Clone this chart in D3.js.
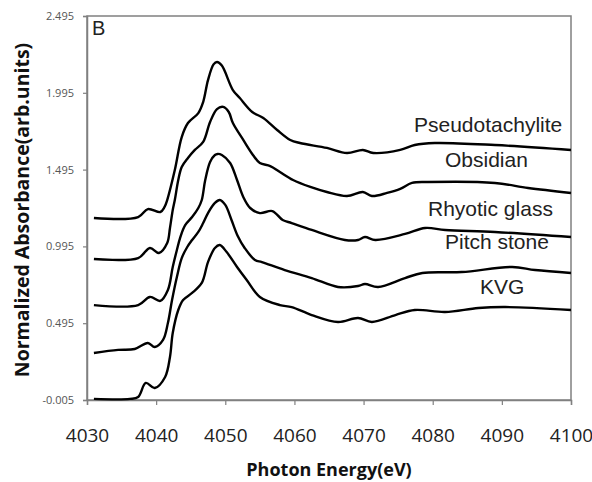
<!DOCTYPE html>
<html>
<head>
<meta charset="utf-8">
<script src="https://cdn.jsdelivr.net/npm/d3@7"></script>
<style>
  body { margin: 0; background: #fff; }
  svg { display: block; }
</style>
</head>
<body>
<div id="chart"></div>
<script>
// tick values
const xTicks = [4030, 4040, 4050, 4060, 4070, 4080, 4090, 4100];
const yTicks = [-0.005, 0.495, 0.995, 1.495, 1.995, 2.495];

// series (energy in eV, normalized absorbance)
const pseudoE = [4031.0, 4037.4, 4038.8, 4040.6, 4041.2, 4041.6, 4042.7, 4043.7, 4044.6, 4046.1, 4046.8, 4047.5, 4048.3, 4048.8, 4049.5, 4051.1, 4052.1, 4053.9, 4055.5, 4057.5, 4059.4, 4060.8, 4064.7, 4067.6, 4069.9, 4071.4, 4075.3, 4077.4, 4080.3, 4089.0, 4100.0];
const pseudoA = [1.180, 1.186, 1.238, 1.219, 1.250, 1.297, 1.492, 1.707, 1.798, 1.863, 1.935, 2.078, 2.180, 2.196, 2.172, 2.013, 1.961, 1.870, 1.831, 1.753, 1.688, 1.668, 1.636, 1.603, 1.623, 1.603, 1.623, 1.655, 1.668, 1.655, 1.623];

const obsE = [4031.0, 4037.4, 4039.1, 4040.4, 4041.6, 4042.0, 4042.4, 4042.7, 4043.2, 4043.7, 4044.6, 4045.6, 4046.8, 4047.8, 4048.8, 4049.7, 4050.5, 4051.1, 4052.6, 4054.0, 4055.0, 4056.5, 4057.9, 4059.8, 4062.3, 4064.7, 4067.6, 4069.9, 4071.2, 4073.4, 4075.3, 4077.0, 4079.3, 4089.0, 4093.8, 4100.0];
const obsA = [0.913, 0.919, 0.985, 0.952, 1.017, 1.115, 1.232, 1.297, 1.427, 1.512, 1.571, 1.623, 1.675, 1.805, 1.889, 1.903, 1.870, 1.798, 1.688, 1.590, 1.538, 1.518, 1.479, 1.427, 1.382, 1.349, 1.323, 1.349, 1.323, 1.343, 1.369, 1.408, 1.414, 1.408, 1.375, 1.343];

const rhyE = [4031.0, 4037.4, 4039.1, 4040.6, 4041.7, 4042.4, 4043.0, 4043.5, 4044.2, 4045.2, 4046.1, 4046.6, 4047.1, 4047.8, 4048.5, 4048.9, 4049.5, 4050.7, 4051.7, 4052.6, 4053.6, 4055.0, 4056.8, 4058.3, 4059.6, 4062.5, 4067.3, 4069.2, 4070.2, 4071.7, 4076.0, 4078.9, 4081.8, 4089.0, 4100.0];
const rhyA = [0.613, 0.613, 0.666, 0.640, 0.711, 0.861, 0.972, 1.056, 1.134, 1.186, 1.245, 1.297, 1.427, 1.544, 1.590, 1.597, 1.590, 1.538, 1.427, 1.317, 1.245, 1.212, 1.225, 1.167, 1.147, 1.102, 1.037, 1.037, 1.056, 1.037, 1.076, 1.115, 1.102, 1.089, 1.056];

const pitchE = [4031.0, 4034.5, 4036.9, 4038.8, 4039.8, 4041.0, 4041.7, 4042.3, 4043.0, 4043.7, 4044.5, 4045.2, 4046.1, 4046.8, 4047.5, 4048.5, 4049.2, 4050.0, 4050.9, 4051.8, 4052.8, 4054.3, 4055.3, 4058.6, 4062.5, 4066.3, 4069.2, 4070.2, 4072.1, 4076.0, 4078.5, 4084.2, 4091.5, 4094.8, 4100.0];
const pitchA = [0.301, 0.321, 0.327, 0.366, 0.340, 0.386, 0.496, 0.646, 0.796, 0.919, 0.991, 1.037, 1.089, 1.147, 1.212, 1.278, 1.297, 1.265, 1.167, 1.063, 0.985, 0.906, 0.893, 0.841, 0.789, 0.731, 0.737, 0.750, 0.731, 0.789, 0.822, 0.828, 0.861, 0.841, 0.822];

const kvgE = [4031.0, 4036.2, 4037.4, 4038.5, 4039.8, 4041.3, 4042.0, 4042.4, 4043.2, 4043.9, 4045.2, 4046.6, 4047.5, 4048.5, 4049.2, 4050.2, 4051.7, 4053.1, 4055.0, 4057.9, 4059.6, 4062.5, 4066.3, 4069.2, 4071.2, 4074.6, 4077.4, 4081.8, 4086.6, 4090.5, 4100.0];
const kvgA = [0.002, 0.002, 0.015, 0.106, 0.073, 0.145, 0.275, 0.431, 0.581, 0.646, 0.692, 0.757, 0.893, 0.985, 1.004, 0.958, 0.861, 0.776, 0.666, 0.613, 0.600, 0.548, 0.503, 0.529, 0.503, 0.548, 0.581, 0.568, 0.594, 0.600, 0.581];

const seriesNames = ['Pseudotachylite', 'Obsidian', 'Rhyotic glass', 'Pitch stone', 'KVG'];

const series = [
  { name: seriesNames[0], e: pseudoE, a: pseudoA, label: [414, 132] },
  { name: seriesNames[1], e: obsE, a: obsA, label: [445, 167] },
  { name: seriesNames[2], e: rhyE, a: rhyA, label: [428, 216] },
  { name: seriesNames[3], e: pitchE, a: pitchA, label: [445, 249] },
  { name: seriesNames[4], e: kvgE, a: kvgA, label: [480, 294] }
];

const W = 592, H = 482;
const margin = { top: 16, right: 21, bottom: 82, left: 87 };
const width = W - margin.left - margin.right;
const height = H - margin.top - margin.bottom;

const svg = d3.select('#chart').append('svg')
  .attr('width', W)
  .attr('height', H);

const g = svg.append('g')
  .attr('transform', 'translate(' + margin.left + ',' + margin.top + ')');

const x = d3.scaleLinear().domain([4030, 4100]).range([0, width]);
const y = d3.scaleLinear().domain([-0.005, 2.495]).range([height, 0]);

// frame
g.append('rect')
  .attr('width', width)
  .attr('height', height)
  .attr('fill', 'none')
  .attr('stroke', '#808080')
  .attr('stroke-width', 1.5);

const xAxis = d3.axisBottom(x).tickValues(xTicks).tickSize(5).tickFormat(d3.format('d'));
const gx = g.append('g')
  .attr('transform', 'translate(0,' + height + ')')
  .call(xAxis);
gx.select('.domain').attr('stroke', '#808080').attr('stroke-width', 1.5);
gx.selectAll('.tick line').attr('stroke', '#808080').attr('stroke-width', 1.2);
gx.selectAll('.tick text')
  .attr('y', 42)
  .attr('dy', 0)
  .attr('fill', '#222')
  .style('font-family', '"Open Sans", sans-serif')
  .style('font-size', '19px');

const yAxis = d3.axisLeft(y).tickValues(yTicks).tickSize(4).tickFormat(d => d.toFixed(3));
const gy = g.append('g').call(yAxis);
gy.select('.domain').attr('stroke', '#808080').attr('stroke-width', 1.5);
gy.selectAll('.tick line').attr('stroke', '#808080').attr('stroke-width', 1.2);
gy.selectAll('.tick text')
  .attr('x', -13)
  .attr('fill', '#555')
  .style('font-family', '"Open Sans", sans-serif')
  .style('font-size', '11px');

const line = d3.line()
  .x(d => x(d[0]))
  .y(d => y(d[1]))
  .curve(d3.curveCatmullRom.alpha(0.5));

g.selectAll('.spectrum')
  .data(series)
  .enter()
  .append('path')
  .attr('class', 'spectrum')
  .attr('fill', 'none')
  .attr('stroke', '#000')
  .attr('stroke-width', 2.4)
  .attr('stroke-linejoin', 'round')
  .attr('d', d => line(d.e.map((v, i) => [v, d.a[i]])));

// series labels
svg.selectAll('.series-label')
  .data(series)
  .enter()
  .append('text')
  .attr('class', 'series-label')
  .attr('x', d => d.label[0])
  .attr('y', d => d.label[1])
  .attr('fill', '#222')
  .style('font-family', '"Liberation Sans", Arial, sans-serif')
  .style('font-size', '21px')
  .text(d => d.name);

svg.append('text')
  .attr('x', 92)
  .attr('y', 35)
  .attr('fill', '#222')
  .style('font-family', '"Liberation Sans", Arial, sans-serif')
  .style('font-size', '20px')
  .text('B');

// axis titles
svg.append('text')
  .attr('x', margin.left + width / 2)
  .attr('y', 476)
  .attr('text-anchor', 'middle')
  .attr('fill', '#111')
  .style('font-family', '"Open Sans", sans-serif')
  .style('font-weight', 'bold')
  .style('font-size', '18px')
  .text('Photon Energy(eV)');

svg.append('text')
  .attr('transform', 'translate(29,' + (margin.top + height / 2 + 2) + ') rotate(-90)')
  .attr('text-anchor', 'middle')
  .attr('fill', '#111')
  .style('font-family', '"Open Sans", sans-serif')
  .style('font-weight', 'bold')
  .style('font-size', '19.5px')
  .text('Normalized Absorbance(arb.units)');
</script>
</body>
</html>
